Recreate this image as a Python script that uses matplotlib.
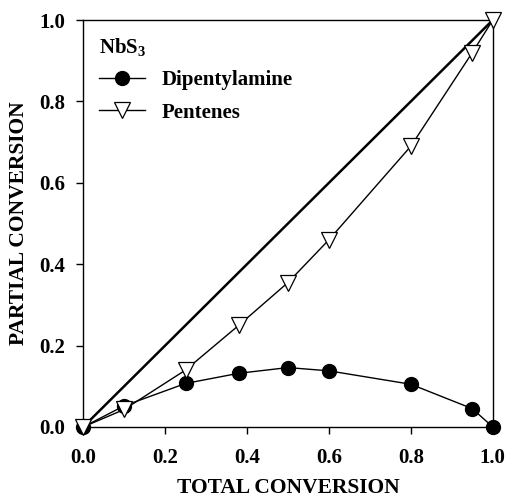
import matplotlib
matplotlib.use("Agg")
import matplotlib.pyplot as plt

total = [0.0, 0.1, 0.25, 0.38, 0.5, 0.6, 0.8, 0.95, 1.0]
dipentylamine = [0.0, 0.052, 0.107, 0.132, 0.146, 0.138, 0.105, 0.045, 0.0]
pentenes = [0.0, 0.043, 0.14, 0.25, 0.355, 0.46, 0.69, 0.92, 1.0]
ticks = [0.0, 0.2, 0.4, 0.6, 0.8, 1.0]

plt.rcParams['font.family'] = ['Liberation Serif', 'DejaVu Serif']
plt.rcParams['font.weight'] = 'bold'
plt.rcParams['mathtext.fontset'] = 'custom'
plt.rcParams['mathtext.rm'] = 'Liberation Serif:bold'
plt.rcParams['mathtext.it'] = 'Liberation Serif:bold'
plt.rcParams['mathtext.bf'] = 'Liberation Serif:bold'

fig = plt.figure(figsize=(5.07, 5.0), dpi=100)
ax = fig.add_axes([0.164, 0.146, 0.808, 0.814])

ax.plot([0, 1], [0, 1], color='black', lw=1.8, zorder=2)
ax.plot(total, dipentylamine, '-o', color='black', lw=1.0, ms=10,
        mfc='black', mec='black', label='Dipentylamine', clip_on=False, zorder=3)
ax.plot(total, pentenes, '-v', color='black', lw=1.0, ms=11,
        mfc='white', mec='black', mew=0.9, label='Pentenes', clip_on=False, zorder=4)

ax.set_xlim(0, 1)
ax.set_ylim(0, 1)
ax.set_xticks(ticks)
ax.set_yticks(ticks)
ax.set_xticklabels([f"{t:.1f}" for t in ticks], fontsize=15, fontweight='bold')
ax.set_yticklabels([f"{t:.1f}" for t in ticks], fontsize=15, fontweight='bold')
ax.tick_params(direction='out', length=5, width=1)
ax.tick_params(axis='x', pad=10)
ax.tick_params(axis='y', pad=8)
for s in ax.spines.values():
    s.set_linewidth(1.0)

ax.set_xlabel('TOTAL CONVERSION', fontsize=15.5, fontweight='bold', labelpad=7)
ax.set_ylabel('PARTIAL CONVERSION', fontsize=15.5, fontweight='bold', labelpad=7)

leg = ax.legend(loc='upper left', title='NbS$_3$', frameon=False,
                fontsize=15, title_fontsize=15, handlelength=2.2,
                borderaxespad=0.35, labelspacing=0.6, alignment='left')
leg.get_title().set_fontweight('bold')

fig.savefig('out.png', dpi=100)
